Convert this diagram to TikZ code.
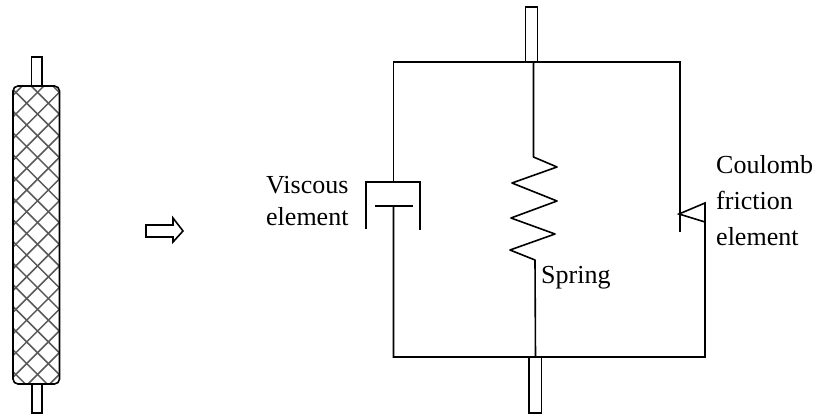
\documentclass[tikz,border=0pt]{standalone}
\usepackage{fontspec}
\setmainfont{Liberation Serif}
\tikzset{
  ln/.style={line width=1.6pt,black,line cap=butt,line join=miter},
  lbl/.style={inner sep=0pt,anchor=base west,font=\fontsize{26}{30}\selectfont},
  hatchline/.style={line width=1.5pt,black!65}
}
\begin{document}
\begin{tikzpicture}[x=1pt,y=-1pt]
\useasboundingbox[fill=white] (0,0) rectangle (817,420);
% left rod
\draw[ln,fill=white] (31.5,57) rectangle (42,86);
\draw[ln,fill=white] (32,384) rectangle (42,413);
\begin{scope}
\clip[rounded corners=5pt] (13,86) rectangle (59.5,384);
\foreach \k in {-20,...,30}{
  \draw[hatchline] (0,{216.7+21.7*\k}) -- (80,{216.7+21.7*\k-80});
  \draw[hatchline] (0,{163.3+21.7*\k}) -- (80,{163.3+21.7*\k+80});
}
\end{scope}
\draw[ln,rounded corners=5pt] (13,86) rectangle (59.5,384);
% block arrow
\draw[line width=1.6pt,line join=miter] (146,225) -- (173,225) -- (173,218) -- (183,231) -- (173,242) -- (173,237) -- (146,237) -- cycle;
% frame
\draw[ln] (680,232) -- (680,62) -- (393.5,62) -- (393.5,182);
\draw[ln] (393.5,206) -- (393.5,357) -- (705,357) -- (705,203) -- (679,214) -- (705,222);
% stubs
\draw[ln,fill=white] (525.5,7) rectangle (537.5,62);
\draw[ln,fill=white] (529,357) rectangle (541.5,413);
% spring
\draw[ln,line join=round] (533.5,62) -- (533.5,157) -- (557,167) -- (512,183) -- (557,201) -- (511,218) -- (555,234) -- (510,250) -- (535,260) -- (535.5,357);
% dashpot
\draw[ln] (366,229) -- (366,182) -- (420,182) -- (420,230);
\draw[ln] (375,206) -- (413,206);
% labels
\node[lbl] (v1) at (266,193) {Viscous};
\node[lbl] (v2) at (266,225) {element};
\node[lbl] (s1) at (541,283) {Spring};
\node[lbl] (c1) at (716,173) {Coulomb};
\node[lbl] (c2) at (716,209) {friction};
\node[lbl] (c3) at (716,245) {element};
\end{tikzpicture}
\end{document}
